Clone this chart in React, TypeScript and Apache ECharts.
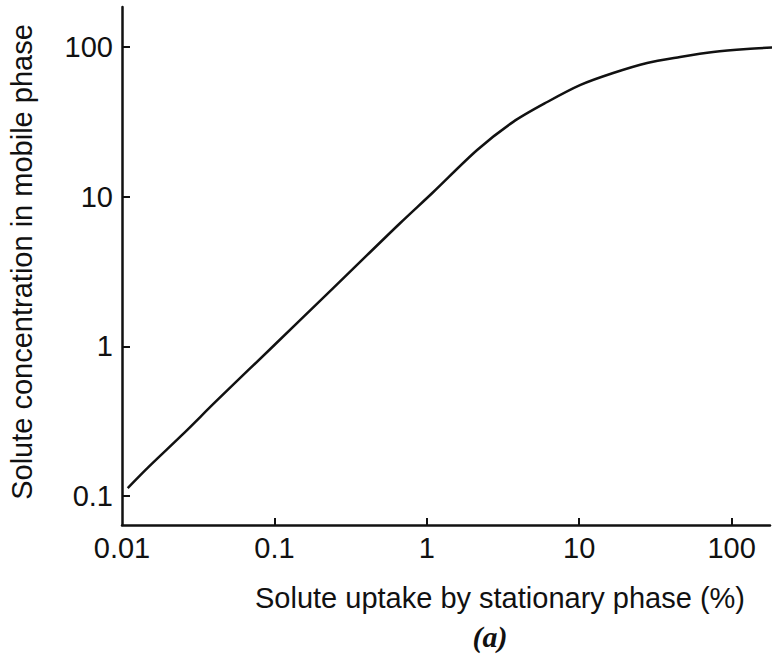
import React, { useEffect, useRef } from "react";
import * as echarts from "echarts";

// Curve (log–log)
const uptakeValues = [0.0109, 0.0149, 0.025, 0.041, 0.0676, 0.148, 0.244, 0.407, 0.67, 1.1, 2.14, 3.69, 6.17, 10.2, 16.7, 27.9, 45.9, 75.6, 126, 214];
const concentrationValues = [0.113, 0.156, 0.258, 0.425, 0.695, 1.5, 2.46, 4.08, 6.67, 10.7, 20.5, 31.6, 42.9, 55.8, 67.0, 78.2, 85.7, 92.6, 97.0, 100];

const xTickLabels = [0.01, 0.1, 1, 10, 100];
const xTickMarks = [0.1, 1, 10, 100];
const yTickLabels = [0.1, 1, 10, 100];
const yTickMarks = [0.1, 1, 10, 100];

const xTitle = "Solute uptake by stationary phase (%)";
const yTitle = "Solute concentration in mobile phase";
const panelLabel = "(a)";

const FONT = "'Liberation Sans', Arial, Helvetica, sans-serif";
const INK = "#111111";

export default function App() {
  const ref = useRef<HTMLDivElement>(null);

  useEffect(() => {
    if (!ref.current) return;
    const chart = echarts.init(ref.current, undefined, { renderer: "svg" });
    const fmt = (v: number) => {
      const l = Math.log10(v);
      if (Math.abs(l - Math.round(l)) > 1e-6) return "";
      return String(Number(v.toPrecision(6)));
    };
    chart.setOption({
      animation: false,
      backgroundColor: "#ffffff",
      grid: { left: 122, right: 14, top: 7, bottom: 131, containLabel: false },
      xAxis: {
        type: "log",
        logBase: 10,
        min: 0.01,
        max: 178.6,
        splitLine: { show: false },
        axisLine: { show: true, lineStyle: { color: INK, width: 2.5 } },
        axisTick: { show: true, inside: true, length: 7, lineStyle: { color: INK, width: 2 }, customValues: xTickMarks },
        minorTick: { show: false },
        axisLabel: {
          color: INK,
          fontFamily: FONT,
          fontSize: 29,
          margin: 8,
          formatter: fmt,
          customValues: xTickLabels,
        },
      },
      yAxis: {
        type: "log",
        logBase: 10,
        min: 0.064,
        max: 185,
        splitLine: { show: false },
        axisLine: { show: true, lineStyle: { color: INK, width: 2.5 } },
        axisTick: { show: true, inside: true, length: 8, lineStyle: { color: INK, width: 2 }, customValues: yTickMarks },
        minorTick: { show: false },
        axisLabel: {
          color: INK,
          fontFamily: FONT,
          fontSize: 29,
          margin: 9,
          formatter: fmt,
          customValues: yTickLabels,
        },
      },
      series: [
        {
          type: "line",
          data: uptakeValues.map((x, i) => [x, concentrationValues[i]]),
          showSymbol: false,
          smooth: 0.3,
          clip: false,
          lineStyle: { color: INK, width: 2.5 },
        },
      ],
      graphic: [
        {
          type: "text",
          x: 500,
          y: 598,
          style: {
            text: xTitle,
            fill: INK,
            font: `29px ${FONT}`,
            textAlign: "center",
            textVerticalAlign: "middle",
          },
        },
        {
          type: "text",
          x: 22,
          y: 262,
          rotation: Math.PI / 2,
          style: {
            text: yTitle,
            fill: INK,
            font: `29px ${FONT}`,
            textAlign: "center",
            textVerticalAlign: "middle",
          },
        },
        {
          type: "text",
          x: 490,
          y: 636,
          style: {
            text: panelLabel,
            fill: INK,
            font: `italic bold 30px 'Liberation Serif', 'DejaVu Serif', serif`,
            textAlign: "center",
            textVerticalAlign: "middle",
          },
        },
      ],
    });
    return () => chart.dispose();
  }, []);

  return (
    <div
      ref={ref}
      style={{ position: "absolute", left: 0, top: 0, width: 784, height: 656 }}
    />
  );
}
